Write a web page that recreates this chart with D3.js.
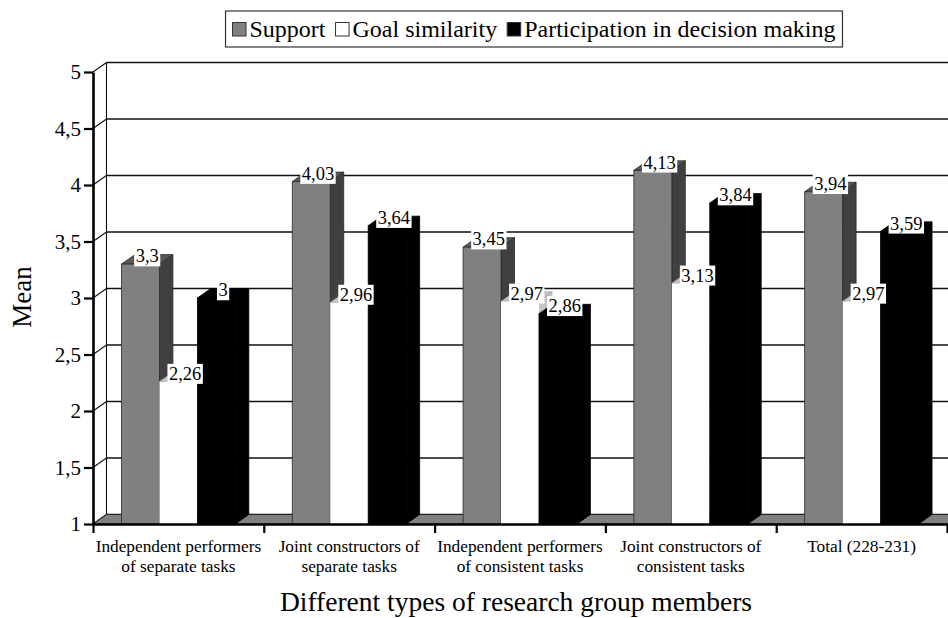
<!DOCTYPE html>
<html>
<head>
<meta charset="utf-8">
<script src="https://cdn.jsdelivr.net/npm/d3@7/dist/d3.min.js"></script>
<style>
  body { margin: 0; background: #fff; }
  svg { display: block; }
  text { font-family: "Liberation Serif", "Times New Roman", serif; fill: #000; }
</style>
</head>
<body>
<svg id="chart" width="948" height="618"></svg>
<script>
// ---- data ----
const categories = [
  "Independent performers\nof separate tasks",
  "Joint constructors of\nseparate tasks",
  "Independent performers\nof consistent tasks",
  "Joint constructors of\nconsistent tasks",
  "Total (228-231)"
];
const seriesNames = ["Support", "Goal similarity", "Participation in decision making"];
const support = [3.3, 4.03, 3.45, 4.13, 3.94];
const goalSimilarity = [2.26, 2.96, 2.97, 3.13, 2.97];
const participation = [3, 3.64, 2.86, 3.84, 3.59];
const yTicks = [1, 1.5, 2, 2.5, 3, 3.5, 4, 4.5, 5];
const yTitle = "Mean";
const xTitle = "Different types of research group members";

const seriesValues = [support, goalSimilarity, participation];

// face shading per series: front, top, side
const shades = [
  { front: "#808080", top: "#585858", side: "#404040", stroke: "#2a2a2a" },
  { front: "#ffffff", top: "#c4c4c4", side: "#c4c4c4", stroke: "none" },
  { front: "#000000", top: "#000000", side: "#000000", stroke: "#000" }
];

// ---- layout ----
const left = 93, right = 947, floorY = 524, topY = 72;
const depth = { dx: 13.5, dy: -9.5 };
const fmt = v => String(v).replace(".", ",");

const svg = d3.select("#chart");

const x = d3.scaleBand().domain(categories).range([left, right]).paddingInner(0).paddingOuter(0);
const xs = d3.scaleBand().domain(seriesNames).range([0, x.bandwidth()]).paddingInner(0).paddingOuter(0.75);
const y = d3.scaleLinear().domain([1, 5]).range([floorY, topY]);

const wallX = left + depth.dx;
const wallRight = 960;

// back wall gridlines and the diagonals joining them to the axis
const wall = svg.append("g");
wall.selectAll("line.grid").data(yTicks).join("line")
  .attr("x1", wallX).attr("x2", wallRight)
  .attr("y1", d => y(d) + depth.dy).attr("y2", d => y(d) + depth.dy)
  .attr("stroke", "#111").attr("stroke-width", 1.3);
wall.selectAll("line.diag").data(yTicks).join("line")
  .attr("x1", left).attr("x2", wallX)
  .attr("y1", d => y(d)).attr("y2", d => y(d) + depth.dy)
  .attr("stroke", "#111").attr("stroke-width", 1.1);
wall.append("line")
  .attr("x1", wallX).attr("x2", wallX)
  .attr("y1", y(5) + depth.dy).attr("y2", y(1) + depth.dy)
  .attr("stroke", "#111").attr("stroke-width", 1.1);

// floor
svg.append("path")
  .attr("d", `M${left},${y(1)}L${wallX},${y(1) + depth.dy}L${wallRight},${y(1) + depth.dy}L${wallRight - depth.dx},${y(1)}Z`)
  .attr("fill", "#808080").attr("stroke", "#222").attr("stroke-width", 1);

// bars
const bars = [];
categories.forEach((c, ci) => {
  seriesNames.forEach((s, si) => {
    const v = seriesValues[si][ci];
    const x0 = x(c) + xs(s), x1 = x0 + xs.bandwidth();
    bars.push({ v, x0, x1, yt: y(v), yb: y(1), shade: shades[si] });
  });
});

const barG = svg.append("g");
bars.forEach(b => {
  const g = barG.append("g");
  const { dx, dy } = depth;
  g.append("path")
    .attr("d", `M${b.x1},${b.yt}L${b.x1 + dx},${b.yt + dy}L${b.x1 + dx},${b.yb + dy}L${b.x1},${b.yb}Z`)
    .attr("fill", b.shade.side).attr("stroke", b.shade.stroke).attr("stroke-width", 0.8);
  g.append("path")
    .attr("d", `M${b.x0},${b.yt}L${b.x0 + dx},${b.yt + dy}L${b.x1 + dx},${b.yt + dy}L${b.x1},${b.yt}Z`)
    .attr("fill", b.shade.top).attr("stroke", b.shade.stroke === "none" ? "#999" : b.shade.stroke).attr("stroke-width", 0.8);
  g.append("rect")
    .attr("x", b.x0).attr("y", b.yt).attr("width", b.x1 - b.x0).attr("height", b.yb - b.yt)
    .attr("fill", b.shade.front).attr("stroke", b.shade.stroke).attr("stroke-width", 0.8);
});

// axes
const yAxis = svg.append("g").attr("transform", `translate(${left},0)`)
  .call(d3.axisLeft(y).tickValues(yTicks).tickSize(9).tickSizeOuter(0).tickPadding(3).tickFormat(fmt));
yAxis.attr("font-family", null);
yAxis.select(".domain").attr("stroke", "#000").attr("stroke-width", 2.6);
yAxis.selectAll(".tick line").attr("stroke", "#000").attr("stroke-width", 2.2);
yAxis.selectAll(".tick text").attr("font-size", 21).attr("fill", "#000");

const xEdge = d3.scaleLinear().domain([0, categories.length]).range([left, right]);
const xAxis = svg.append("g").attr("transform", `translate(0,${floorY})`)
  .call(d3.axisBottom(xEdge).tickValues(d3.range(categories.length + 1)).tickSize(9).tickSizeOuter(0).tickFormat(""));
xAxis.select(".domain").attr("stroke", "#000").attr("stroke-width", 2.6);
xAxis.selectAll(".tick line").attr("stroke", "#000").attr("stroke-width", 2.2);

// category labels
const catG = svg.append("g");
categories.forEach(c => {
  const t = catG.append("text")
    .attr("x", x(c) + x.bandwidth() / 2).attr("y", 552)
    .attr("text-anchor", "middle").attr("font-size", 17.3);
  c.split("\n").forEach((line, i) => {
    t.append("tspan").attr("x", x(c) + x.bandwidth() / 2).attr("dy", i === 0 ? 0 : 20).text(line);
  });
});

// value labels on top of each bar
const labG = svg.append("g");
bars.forEach(b => {
  const cx = (b.x0 + b.x1 + depth.dx) / 2;
  const cy = b.yt + depth.dy / 2 - 3;
  const t = labG.append("text")
    .attr("x", cx).attr("y", cy).attr("text-anchor", "middle")
    .attr("dominant-baseline", "central").attr("font-size", 18.5).text(fmt(b.v));
  const w = t.node().getComputedTextLength();
  labG.insert("rect", () => t.node())
    .attr("x", cx - w / 2 - 1.5).attr("y", cy - 10).attr("width", w + 3).attr("height", 20)
    .attr("fill", "#fff");
});

// axis titles
svg.append("text")
  .attr("transform", `translate(22,297) rotate(-90)`)
  .attr("text-anchor", "middle").attr("dominant-baseline", "central")
  .attr("font-size", 27).text(yTitle);
svg.append("text")
  .attr("x", (left + right) / 2 - 4).attr("y", 611)
  .attr("text-anchor", "middle").attr("font-size", 27.5).text(xTitle);

// legend
const legend = svg.append("g");
const legendBox = legend.append("rect")
  .attr("y", 11).attr("height", 36).attr("fill", "#fff").attr("stroke", "#333").attr("stroke-width", 1.2);
let cursor = 0;
const items = legend.append("g");
seriesNames.forEach((s, i) => {
  items.append("rect")
    .attr("x", cursor).attr("y", 22.5).attr("width", 13.5).attr("height", 13.5)
    .attr("fill", shades[i].front).attr("stroke", "#333").attr("stroke-width", 1);
  const t = items.append("text").attr("x", cursor + 17).attr("y", 37).attr("font-size", 24).text(s);
  cursor += 17 + t.node().getComputedTextLength() + 10;
});
const contentW = cursor - 10;
const legendCenter = 534;
items.attr("transform", `translate(${legendCenter - contentW / 2},0)`);
legendBox.attr("x", legendCenter - contentW / 2 - 7).attr("width", contentW + 14);
</script>
</body>
</html>
